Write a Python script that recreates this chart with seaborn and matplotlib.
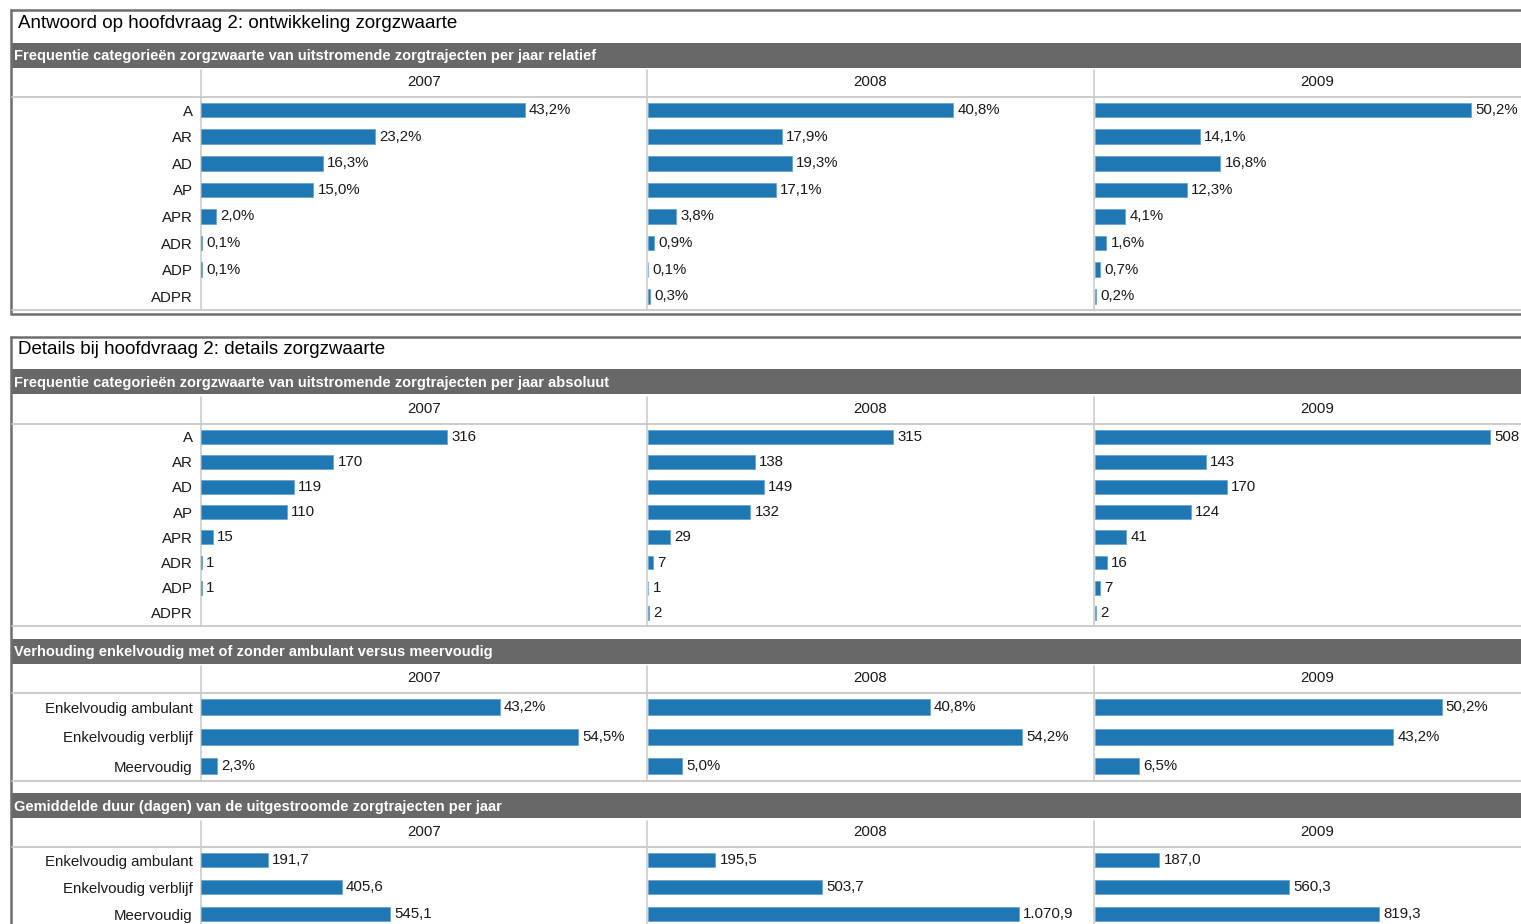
import numpy as np
import pandas as pd
import matplotlib
matplotlib.use("Agg")
import matplotlib.pyplot as plt
import seaborn as sns

# ---------------- data ----------------
years = ["2007", "2008", "2009"]
cats_zw = ["A", "AR", "AD", "AP", "APR", "ADR", "ADP", "ADPR"]
rel_2007 = [43.2, 23.2, 16.3, 15.0, 2.0, 0.1, 0.1, np.nan]
rel_2008 = [40.8, 17.9, 19.3, 17.1, 3.8, 0.9, 0.1, 0.3]
rel_2009 = [50.2, 14.1, 16.8, 12.3, 4.1, 1.6, 0.7, 0.2]
abs_2007 = [316, 170, 119, 110, 15, 1, 1, np.nan]
abs_2008 = [315, 138, 149, 132, 29, 7, 1, 2]
abs_2009 = [508, 143, 170, 124, 41, 16, 7, 2]
cats_vh = ["Enkelvoudig ambulant", "Enkelvoudig verblijf", "Meervoudig"]
ratio_2007 = [43.2, 54.5, 2.3]
ratio_2008 = [40.8, 54.2, 5.0]
ratio_2009 = [50.2, 43.2, 6.5]
dur_2007 = [191.7, 405.6, 545.1]
dur_2008 = [195.5, 503.7, 1070.9]
dur_2009 = [187.0, 560.3, 819.3]

title1 = "Antwoord op hoofdvraag 2: ontwikkeling zorgzwaarte"
title2 = "Details bij hoofdvraag 2: details zorgzwaarte"
band_titles = [
    "Frequentie categorieën zorgzwaarte van uitstromende zorgtrajecten per jaar relatief",
    "Frequentie categorieën zorgzwaarte van uitstromende zorgtrajecten per jaar absoluut",
    "Verhouding enkelvoudig met of zonder ambulant versus meervoudig",
    "Gemiddelde duur (dagen) van de uitgestroomde zorgtrajecten per jaar",
]

# ---------------- style ----------------
sns.set_theme(style="white")
plt.rcParams["font.family"] = ["Liberation Sans", "DejaVu Sans"]
BLUE = "#1f77b4"
BAND = "#686868"
LIGHT = "#c8c8c8"
DARK = "#6e6e6e"
TXT = "#1a1a1a"
FS = 10.8

W, H = 1521, 924
fig = plt.figure(figsize=(W / 100, H / 100), dpi=100)
fig.patch.set_facecolor("white")

bg = fig.add_axes([0, 0, 1, 1], zorder=0)
bg.set_xlim(0, W)
bg.set_ylim(H, 0)
bg.axis("off")


def px_axes(x0, y0, x1, y1):
    ax = fig.add_axes([x0 / W, 1 - y1 / H, (x1 - x0) / W, (y1 - y0) / H], zorder=2)
    ax.set_facecolor("none")
    return ax


def nl(v, dec):
    s = f"{v:,.{dec}f}"
    return s.replace(",", "_").replace(".", ",").replace("_", ".")


col_x = [201, 647.5, 1094.5]
col_w = 446
sep_x = [200.5, 647, 1094]

sections = [
    dict(band=(42.5, 67.5), head=82, rows=(96.8, 309.5), cats=cats_zw,
         series=[rel_2007, rel_2008, rel_2009], xmax=59.5,
         fmt=lambda v: nl(v, 1) + "%"),
    dict(band=(369, 394), head=409, rows=(424, 625.5), cats=cats_zw,
         series=[abs_2007, abs_2008, abs_2009], xmax=572.5,
         fmt=lambda v: nl(v, 0)),
    dict(band=(639, 663.5), head=678, rows=(692.5, 781), cats=cats_vh,
         series=[ratio_2007, ratio_2008, ratio_2009], xmax=64.5,
         fmt=lambda v: nl(v, 1) + "%"),
    dict(band=(793, 818), head=832.5, rows=(846.5, 927.5), cats=cats_vh,
         series=[dur_2007, dur_2008, dur_2009], xmax=1285,
         fmt=lambda v: nl(v, 1)),
]

# ---------------- frames ----------------
bg.plot([10, W], [9.5, 9.5], color=DARK, lw=1.8, solid_capstyle="butt")
bg.plot([10.5, 10.5], [9, 314], color=DARK, lw=1.8, solid_capstyle="butt")
bg.plot([10, W], [313.5, 313.5], color=DARK, lw=1.8, solid_capstyle="butt")
bg.text(18, 23.5, title1, fontsize=13.5, color="#000000", va="center", ha="left")
bg.plot([10, W], [336.5, 336.5], color=DARK, lw=1.8, solid_capstyle="butt")
bg.plot([10.5, 10.5], [336, H], color=DARK, lw=1.8, solid_capstyle="butt")
bg.text(18, 349.5, title2, fontsize=13.5, color="#000000", va="center", ha="left")

for sec, btitle in zip(sections, band_titles):
    b0, b1 = sec["band"]
    bg.add_patch(matplotlib.patches.Rectangle((11.5, b0), W - 11.5, b1 - b0,
                                              facecolor=BAND, edgecolor="none"))
    bg.text(14, (b0 + b1) / 2 + 1, btitle, fontsize=10.5, fontweight="bold",
            color="white", va="center", ha="left")
    r0, r1 = sec["rows"]
    bg.plot([11.5, W], [r0, r0], color=LIGHT, lw=1.3)
    if r1 < H:
        bg.plot([11.5, W], [r1, r1], color=LIGHT, lw=1.3)
    for sx in sep_x:
        bg.plot([sx, sx], [b1 + 2.5, min(r1, H)], color=LIGHT, lw=1.1)
    for i, yr in enumerate(years):
        bg.text(col_x[i] + col_w / 2, sec["head"], yr, fontsize=FS, color=TXT,
                ha="center", va="center")

    for i, vals in enumerate(sec["series"]):
        ax = px_axes(col_x[i], r0, col_x[i] + col_w, r1)
        df = pd.DataFrame({"cat": sec["cats"], "val": vals}).dropna()
        sns.barplot(data=df, x="val", y="cat", order=sec["cats"], orient="h",
                    color=BLUE, width=0.55, errorbar=None, ax=ax,
                    edgecolor="#5f9fcf", linewidth=0.5, saturation=1)
        ax.set_xlim(0, sec["xmax"])
        ax.set_ylim(len(sec["cats"]) - 0.5, -0.5)
        for c in ax.containers:
            ax.bar_label(c, labels=[sec["fmt"](b.get_width()) for b in c],
                         padding=3, fontsize=FS, color=TXT)
        for s in ax.spines.values():
            s.set_visible(False)
        ax.set_xticks([])
        ax.set_xlabel("")
        ax.set_ylabel("")
        if i == 0:
            ax.tick_params(axis="y", length=0, pad=6, labelsize=FS, labelcolor=TXT)
        else:
            ax.tick_params(axis="y", length=0, labelleft=False)

fig.savefig("out.png", dpi=100, facecolor="white")
